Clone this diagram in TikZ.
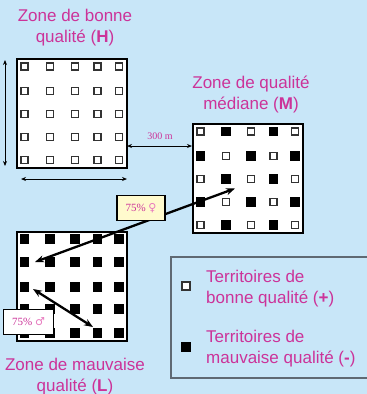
\documentclass[tikz,border=0pt]{standalone}
\usepackage{fontspec}
\setmainfont{Liberation Sans}
\newfontfamily\serifrm{Liberation Serif}
\newfontfamily\symfont{DejaVu Sans}
\usetikzlibrary{arrows.meta}

\definecolor{bgblue}{RGB}{200,230,248}
\definecolor{magtext}{RGB}{204,51,153}
\definecolor{pinksym}{RGB}{232,120,190}
\definecolor{lightyel}{RGB}{255,250,205}
\definecolor{legframe}{RGB}{95,105,115}

\tikzset{
  zone/.style={draw=black, line width=1.5pt, fill=white, minimum width=110, minimum height=109, inner sep=0pt},
  cellW/.style={draw=black!80, line width=1.5pt, fill=white, minimum size=7.4, inner sep=0pt},
  cellB/.style={fill=black, minimum size=9.3, inner sep=0pt},
  mcell0/.style={cellW},
  mcell1/.style={cellB},
  title/.style={text=magtext, align=center, inner sep=0pt, font=\fontsize{17}{21}\selectfont},
  legtxt/.style={text=magtext, align=left, inner sep=0pt, font=\fontsize{17}{21}\selectfont},
  dim/.style={{Stealth[length=5pt,width=4pt]}-{Stealth[length=5pt,width=4pt]}, line width=1pt},
  mig/.style={{Stealth[length=9pt,width=7pt]}-{Stealth[length=9pt,width=7pt]}, line width=2.3pt},
  tagbox/.style={draw=black, line width=1.6pt, minimum width=48, minimum height=25, inner sep=0pt, text=magtext, font=\serifrm\fontsize{11}{13}\selectfont}
}

\begin{document}
\begin{tikzpicture}[x=1pt,y=1pt,yscale=-1,xscale=1]
% background, fixes the size of the page
\fill[bgblue] (0,0) rectangle (367,394);
\useasboundingbox (0,0) rectangle (367,394);

%Shape: zones
\node[zone] (zH) at (72,113.5) {};
\node[zone] (zM) at (248,178.5) {};
\node[zone] (zL) at (72,286.5) {};

%Shape: territories, good zone
\foreach \c [count=\i] in {7.5,33,58,80.5,102}
  \foreach \r [count=\j] in {7.5,32,55,78,101}
    \node[cellW] (h\j\i) at (17+\c,59+\r) {};
%Shape: territories, median zone
\foreach \c [count=\i] in {7.5,33,58,80.5,102}
  \foreach \r [count=\j] in {7.5,32,55,78,101}{
    \pgfmathtruncatemacro{\odd}{mod(\i+\j,2)}
    \node[mcell\odd] (m\j\i) at (193+\c,124+\r) {};
  }
%Shape: territories, bad zone
\foreach \c [count=\i] in {7.5,33,58,80.5,102}
  \foreach \r [count=\j] in {7,30,55,77,101}
    \node[cellB] (l\j\i) at (17+\c,232+\r) {};

%Curve Lines: dimensions
\coordinate (dimV1) at (5,60);
\coordinate (dimV2) at (5,166);
\coordinate (dimH1) at (21,179);
\coordinate (dimH2) at (127,179);
\coordinate (gap1) at (127,146);
\coordinate (gap2) at (192,146);
\draw[dim] (dimV1) -- (dimV2);
\draw[dim] (dimH1) -- (dimH2);
\draw[dim] (gap1) -- (gap2);
% Text Node
\node[text=magtext, inner sep=0pt, font=\serifrm\fontsize{10}{12}\selectfont] (gapLbl) at (160,136) {300 m};

%Curve Lines: dispersal
\coordinate (femL) at (35,262);
\coordinate (femM) at (235,188.5);
\coordinate (malA) at (33,289);
\coordinate (malB) at (93,327);
\draw[mig] (femL) -- (femM);
\draw[mig] (malA) -- (malB);

% Text Node
\node[tagbox, fill=lightyel] (tagFem) at (141,208) {75\% {\symfont\color{pinksym}♀}};
% Text Node
\node[tagbox, fill=white, minimum width=50] (tagMal) at (28.5,322) {75\% {\symfont\color{pinksym}♂}};

% Text Node
\node[title] (tH) at (75,27.5) {Zone de bonne\\qualité (\textbf{H})};
% Text Node
\node[title] (tM) at (251,94) {Zone de qualité\\médiane (\textbf{M})};
% Text Node
\node[title] (tL) at (75,377) {Zone de mauvaise\\qualité (\textbf{L})};

%Shape: legend
\draw[legframe, line width=1.2pt] (171,257) rectangle (380,378);
\node[cellW, minimum size=8] (keyW) at (186,286) {};
\node[cellB, minimum size=10] (keyB) at (186,347) {};
% Text Node
\node[legtxt, anchor=west] (keyWtxt) at (206,289) {Territoires de\\bonne qualité (\textbf{+})};
% Text Node
\node[legtxt, anchor=west] (keyBtxt) at (206,349) {Territoires de\\mauvaise qualité (\textbf{-})};

\end{tikzpicture}
\end{document}
